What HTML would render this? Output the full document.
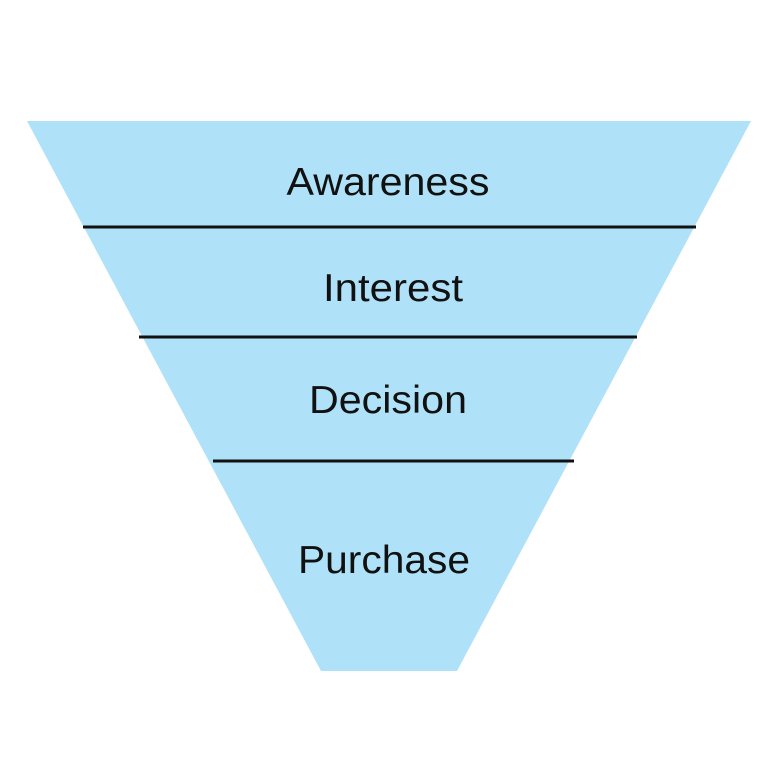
<!DOCTYPE html>
<html><head><meta charset="utf-8"><style>html,body{margin:0;padding:0;background:#fff}svg{display:block}</style></head>
<body>
<svg width="768" height="768" viewBox="0 0 768 768" xmlns="http://www.w3.org/2000/svg">
<polygon points="27,121 751,121 457,671 321,671" fill="#AFE2F8"/>
<g stroke="#111" stroke-width="3">
<line x1="83" y1="227" x2="696" y2="227"/>
<line x1="139" y1="337" x2="637" y2="337"/>
<line x1="213" y1="461" x2="574" y2="461"/>
</g>
<g font-family="Liberation Sans, sans-serif" font-size="39" fill="#111" text-anchor="middle">
<text x="388" y="195" textLength="203" lengthAdjust="spacingAndGlyphs">Awareness</text>
<text x="393" y="301" textLength="140" lengthAdjust="spacingAndGlyphs">Interest</text>
<text x="388" y="413" textLength="158" lengthAdjust="spacingAndGlyphs">Decision</text>
<text x="384" y="573" textLength="172" lengthAdjust="spacingAndGlyphs">Purchase</text>
</g>
</svg>
</body></html>
